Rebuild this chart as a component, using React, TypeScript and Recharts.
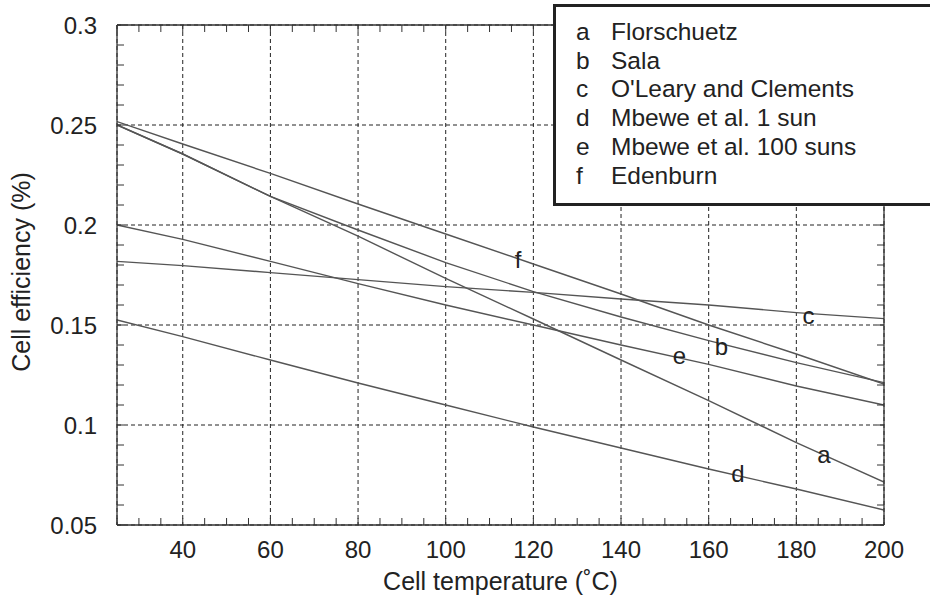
import { LineChart, Line, XAxis, YAxis, CartesianGrid, Legend, ReferenceDot } from "recharts";

// cell temperature (°C) where each curve was read
const temps = [25, 40, 60, 80, 100, 120, 140, 160, 180, 200];

// cell efficiency
const florschuetz = [0.25, 0.2355, 0.2143, 0.1944, 0.1733, 0.153, 0.1325, 0.1122, 0.0912, 0.0715];
const sala = [0.25, 0.2355, 0.2143, 0.1975, 0.1812, 0.1667, 0.154, 0.1422, 0.1312, 0.1212];
const oLeary = [0.1818, 0.1797, 0.1762, 0.1727, 0.1692, 0.1663, 0.163, 0.16, 0.1562, 0.1532];
const mbewe1 = [0.1525, 0.1442, 0.1325, 0.121, 0.11, 0.099, 0.0885, 0.078, 0.068, 0.0575];
const mbewe100 = [0.2, 0.1928, 0.1818, 0.1707, 0.16, 0.15, 0.14, 0.1303, 0.1195, 0.11];
const edenburn = [0.2517, 0.2405, 0.2258, 0.2105, 0.1955, 0.1805, 0.1655, 0.15, 0.1355, 0.1205];

const seriesKeys = ["a", "b", "c", "d", "e", "f"];
const seriesNames = [
  "Florschuetz",
  "Sala",
  "O'Leary and Clements",
  "Mbewe et al. 1 sun",
  "Mbewe et al. 100 suns",
  "Edenburn",
];
const seriesValues = [florschuetz, sala, oLeary, mbewe1, mbewe100, edenburn];

const xTicks = [40, 60, 80, 100, 120, 140, 160, 180, 200];
const xMinorTicks = [
  25, 30, 35, 40, 45, 50, 55, 60, 65, 70, 75, 80, 85, 90, 95, 100, 105, 110, 115, 120, 125, 130,
  135, 140, 145, 150, 155, 160, 165, 170, 175, 180, 185, 190, 195, 200,
];
const yTicks = [0.05, 0.1, 0.15, 0.2, 0.25, 0.3];
const yMinorTicks = [
  0.05, 0.06, 0.07, 0.08, 0.09, 0.1, 0.11, 0.12, 0.13, 0.14, 0.15, 0.16, 0.17, 0.18, 0.19, 0.2,
  0.21, 0.22, 0.23, 0.24, 0.25, 0.26, 0.27, 0.28, 0.29, 0.3,
];

// where the curve letters sit, in chart units
const curveLabels = [
  { key: "f", t: 116.5, eff: 0.1828 },
  { key: "b", t: 162.9, eff: 0.1392 },
  { key: "e", t: 153.3, eff: 0.135 },
  { key: "c", t: 182.8, eff: 0.1547 },
  { key: "a", t: 186.3, eff: 0.0855 },
  { key: "d", t: 166.7, eff: 0.0757 },
];

const data = temps.map((t, i) => {
  const row: Record<string, number> = { t };
  seriesKeys.forEach((k, j) => {
    row[k] = seriesValues[j][i];
  });
  return row;
});

const FONT = "'Liberation Sans', Arial, Helvetica, sans-serif";
const INK = "#222";
const DOMAIN_X: [number, number] = [25, 200];
const DOMAIN_Y: [number, number] = [0.05, 0.3];

const noLabel = () => <g />;

function LegendBox() {
  return (
    <div
      style={{
        boxSizing: "border-box",
        width: 390,
        height: 202,
        border: `3px solid ${INK}`,
        background: "#fff",
        padding: "11px 0 0 20px",
        fontFamily: FONT,
        fontSize: 24.5,
        lineHeight: "28.7px",
        color: INK,
        textAlign: "left",
      }}
    >
      {seriesKeys.map((k, i) => (
        <div key={k} style={{ display: "flex", whiteSpace: "nowrap" }}>
          <span style={{ width: 35 }}>{k}</span>
          <span>{seriesNames[i]}</span>
        </div>
      ))}
    </div>
  );
}

export default function App() {
  return (
    <div
      style={{
        position: "absolute",
        left: 0,
        top: 0,
        width: 930,
        height: 600,
        overflow: "hidden",
        background: "#fff",
        fontFamily: FONT,
      }}
    >
      <LineChart width={930} height={600} data={data} margin={{ top: 25, right: 46, bottom: 0, left: 0 }}>
        <CartesianGrid
          xAxisId="x"
          yAxisId="y"
          stroke={INK}
          strokeWidth={1}
          strokeDasharray="4 3"
        />
        <XAxis
          xAxisId="x"
          dataKey="t"
          type="number"
          domain={DOMAIN_X}
          allowDataOverflow
          ticks={xTicks}
          interval={0}
          height={75}
          tickLine={false}
          tickSize={8}
          tickMargin={8}
          axisLine={{ stroke: "#333", strokeWidth: 1.3 }}
          tick={{ fontSize: 24, fill: INK }}
          label={{
            value: "Cell temperature (\u02daC)",
            position: "insideBottom",
            offset: 10,
            fontSize: 25,
            fill: INK,
          }}
        />
        <XAxis
          xAxisId="xMinor"
          dataKey="t"
          type="number"
          domain={DOMAIN_X}
          allowDataOverflow
          ticks={xMinorTicks}
          interval={0}
          mirror
          height={20}
          tick={noLabel}
          tickSize={7}
          tickLine={{ stroke: "#333", strokeWidth: 1 }}
          axisLine={false}
        />
        <XAxis
          xAxisId="xTop"
          orientation="top"
          dataKey="t"
          type="number"
          domain={DOMAIN_X}
          allowDataOverflow
          ticks={xMinorTicks}
          interval={0}
          mirror
          height={20}
          tick={noLabel}
          tickSize={7}
          tickLine={{ stroke: "#333", strokeWidth: 1 }}
          axisLine={{ stroke: "#333", strokeWidth: 1.3 }}
        />
        <YAxis
          yAxisId="y"
          type="number"
          domain={DOMAIN_Y}
          allowDataOverflow
          ticks={yTicks}
          interval={0}
          width={117}
          tickLine={false}
          tickSize={8}
          tickMargin={12}
          axisLine={{ stroke: "#333", strokeWidth: 1.3 }}
          tick={{ fontSize: 24, fill: INK }}
          label={{
            value: "Cell efficiency (%)",
            angle: -90,
            position: "insideLeft",
            offset: 21,
            dy: -3,
            fontSize: 25,
            fill: INK,
            style: { textAnchor: "middle" },
          }}
        />
        <YAxis
          yAxisId="yMinor"
          type="number"
          domain={DOMAIN_Y}
          allowDataOverflow
          ticks={yMinorTicks}
          interval={0}
          mirror
          width={20}
          tick={noLabel}
          tickSize={7}
          tickLine={{ stroke: "#333", strokeWidth: 1 }}
          axisLine={false}
        />
        <YAxis
          yAxisId="yRight"
          orientation="right"
          type="number"
          domain={DOMAIN_Y}
          allowDataOverflow
          ticks={yMinorTicks}
          interval={0}
          mirror
          width={20}
          tick={noLabel}
          tickSize={7}
          tickLine={{ stroke: "#333", strokeWidth: 1 }}
          axisLine={{ stroke: "#333", strokeWidth: 1.3 }}
        />
        {/* invisible carriers so the tick-only axes get a scale */}
        <Line
          xAxisId="xMinor"
          yAxisId="yMinor"
          dataKey="a"
          stroke="none"
          dot={false}
          activeDot={false}
          legendType="none"
          isAnimationActive={false}
        />
        <Line
          xAxisId="xTop"
          yAxisId="yRight"
          dataKey="a"
          stroke="none"
          dot={false}
          activeDot={false}
          legendType="none"
          isAnimationActive={false}
        />
        {seriesKeys.map((k, i) => (
          <Line
            key={k}
            xAxisId="x"
            yAxisId="y"
            type="linear"
            dataKey={k}
            name={seriesNames[i]}
            stroke="#555"
            strokeWidth={1.4}
            dot={false}
            activeDot={false}
            isAnimationActive={false}
          />
        ))}
        {curveLabels.map((l) => (
          <ReferenceDot
            key={l.key}
            xAxisId="x"
            yAxisId="y"
            x={l.t}
            y={l.eff}
            r={1}
            fill="none"
            stroke="none"
            label={{ value: l.key, position: "center", fontSize: 24, fill: INK }}
          />
        ))}
        <Legend
          layout="vertical"
          align="center"
          verticalAlign="middle"
          width={390}
          content={() => <LegendBox />}
          wrapperStyle={{ left: 553, top: 4, width: 390, height: 202 }}
        />
      </LineChart>
    </div>
  );
}
